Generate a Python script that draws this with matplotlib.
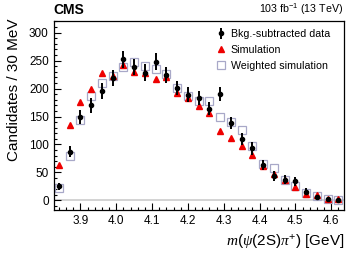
import matplotlib
matplotlib.use("Agg")
import matplotlib.pyplot as plt
from matplotlib.ticker import MultipleLocator, FormatStrFormatter

plt.rcParams['font.family'] = ['Liberation Sans', 'DejaVu Sans']
plt.rcParams['mathtext.fontset'] = 'custom'
plt.rcParams['mathtext.rm'] = 'Liberation Sans'
plt.rcParams['mathtext.it'] = 'Liberation Serif:italic'
plt.rcParams['mathtext.bf'] = 'Liberation Sans:bold'

mass = [3.84, 3.87, 3.90, 3.93, 3.96, 3.99, 4.02, 4.05, 4.08, 4.11, 4.14, 4.17, 4.20, 4.23,
        4.26, 4.29, 4.32, 4.35, 4.38, 4.41, 4.44, 4.47, 4.50, 4.53, 4.56, 4.59, 4.62]
data = [25, 87, 149, 170, 196, 219, 252, 239, 228, 248, 224, 201, 189, 183,
        164, 190, 139, 110, 93, 63, 43, 37, 34, 16, 6, 3, 1]
data_err = [6, 10, 13, 13, 14, 14, 15, 14, 15, 15, 14, 13, 13, 13,
            12, 12, 11, 11, 11, 9, 9, 8, 8, 6, 4, 3, 2]
simulation = [64, 134, 176, 200, 227, 223, 242, 230, 228, 217, 220, 192, 183, 169,
              157, 124, 112, 98, 81, 62, 48, 36, 24, 11, 9, 3, 2]
weighted = [23, 79, 143, 186, 209, 223, 239, 248, 241, 235, 226, 201, 186, 177,
            177, 150, 140, 126, 97, 65, 58, 36, 25, 14, 8, 3, 1]

fig = plt.figure(figsize=(3.57, 2.57), dpi=100)
ax = fig.add_axes([0.150, 0.183, 0.814, 0.736])

ax.axhline(0, color='#cccccc', lw=1.2, zorder=0)
ax.plot(mass, weighted, ls='none', marker='s', ms=5.5, mfc='none', mec='#a8a8c8',
        mew=0.9, label='Weighted simulation', zorder=2)
ax.plot(mass, simulation, ls='none', marker='^', ms=4.5, color='#ee0000', mec='#ee0000',
        label='Simulation', zorder=3)
ax.errorbar(mass, data, yerr=data_err, fmt='o', ms=3, color='black', elinewidth=1.4,
            capsize=0, label='Bkg.-subtracted data', zorder=4)

ax.set_xlim(3.825, 4.636)
ax.set_ylim(-17, 321)
ax.xaxis.set_major_locator(MultipleLocator(0.1))
ax.xaxis.set_minor_locator(MultipleLocator(0.02))
ax.yaxis.set_major_locator(MultipleLocator(50))
ax.yaxis.set_minor_locator(MultipleLocator(10))
ax.tick_params(which='both', direction='in', labelsize=8.5, width=0.8)
ax.tick_params(which='major', length=5)
ax.tick_params(which='minor', length=2.5)
ax.xaxis.set_major_formatter(FormatStrFormatter('%.1f'))
for s in ax.spines.values():
    s.set_linewidth(0.9)

ax.set_ylabel('Candidates / 30 MeV', fontsize=11, loc='top')
ax.yaxis.set_label_coords(-0.112, 1.014)
ax.set_xlabel(r'$m(\psi(2\mathrm{S})\pi^{+})$ [GeV]', fontsize=11, loc='right')

h, l = ax.get_legend_handles_labels()
order = [2, 1, 0]
ax.legend([h[i] for i in order], [l[i] for i in order], loc='upper left',
          frameon=False, fontsize=7.7, handlelength=0.8, handletextpad=0.5,
          borderaxespad=0, labelspacing=0.55, bbox_to_anchor=(0.547, 0.979))

fig.text(0.150, 0.935, 'CMS', fontsize=10, fontweight='bold', ha='left', va='bottom')
fig.text(0.962, 0.935, r'103 fb$^{-1}$ (13 TeV)', fontsize=7.7, ha='right', va='bottom')

fig.savefig('out.png', dpi=100)
